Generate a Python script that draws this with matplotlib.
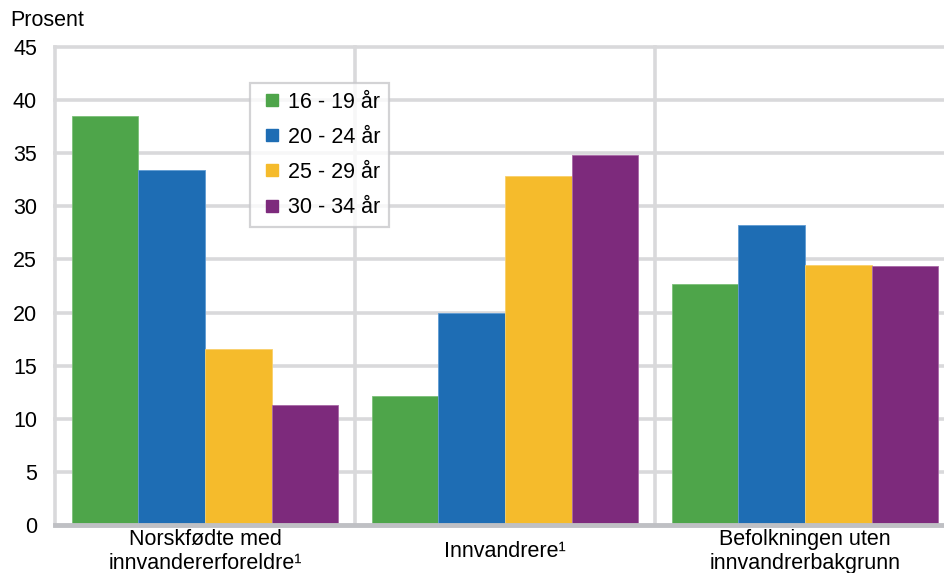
import matplotlib

matplotlib.use("Agg")

import matplotlib.pyplot as plt
import numpy as np
from matplotlib.lines import Line2D

plt.rcParams["font.family"] = ["Liberation Sans", "DejaVu Sans"]

CATEGORIES = ["Norskfødte med\ninnvandererforeldre¹", "Innvandrere¹", "Befolkningen uten\ninnvandrerbakgrunn"]
AGE_GROUPS = ["16 - 19 år", "20 - 24 år", "25 - 29 år", "30 - 34 år"]
AGE_16_19 = [38.5, 12.1, 22.7]
AGE_20_24 = [33.4, 20.0, 28.2]
AGE_25_29 = [16.6, 32.9, 24.5]
AGE_30_34 = [11.3, 34.8, 24.4]
Y_TICKS = [0, 5, 10, 15, 20, 25, 30, 35, 40, 45]

COLORS = ["#4ea54a", "#1e6db4", "#f5bb2c", "#7d2a7c"]
EDGES = ["#7cc078", "#5f9bd3", "#f9d06a", "#a868a6"]
GRID = "#d9d9db"
AXIS = "#bfc0c4"
FS = 15.5

W, H = 944, 573
fig = plt.figure(figsize=(W / 100, H / 100), dpi=100)
ax = fig.add_axes([55 / W, 48 / H, 900 / W, 478 / H])

x = np.arange(len(CATEGORIES))
bw = 0.2222
series = [AGE_16_19, AGE_20_24, AGE_25_29, AGE_30_34]
for i, vals in enumerate(series):
    ax.bar(x + (i - 1.5) * bw, vals, width=bw, color=COLORS[i], edgecolor=EDGES[i],
           linewidth=0.6, zorder=3)

ax.set_xlim(-0.5, 2.5)
ax.set_ylim(0, 45)
for s in ax.spines.values():
    s.set_visible(False)

for v in Y_TICKS[1:]:
    ax.axhline(v, color=GRID, lw=2.6, zorder=1, clip_on=False)
for b in [-0.5, 0.5, 1.5]:
    ax.axvline(b, color=GRID, lw=2.6, zorder=1, clip_on=False)
ax.axhline(0, color=AXIS, lw=3.5, zorder=4, clip_on=False)

ax.set_yticks(Y_TICKS)
ax.set_yticklabels([str(v) for v in Y_TICKS], fontsize=FS)
ax.tick_params(axis="y", length=0, pad=13)
ax.set_xticks(x)
ax.set_xticklabels(CATEGORIES, fontsize=FS, va="center", linespacing=1.2)
ax.tick_params(axis="x", length=0, pad=19)

fig.text(10 / W, 1 - 21 / H, "Prosent", fontsize=FS, va="center", ha="left")

handles = [Line2D([], [], marker="s", linestyle="none", markersize=8,
                  markerfacecolor=c, markeredgecolor=c) for c in COLORS]
leg = ax.legend(handles, AGE_GROUPS, loc="upper left",
                bbox_to_anchor=((250 - 55) / 900, (525 - 83) / 478),
                fontsize=FS, frameon=True, fancybox=False, borderpad=0.4,
                labelspacing=0.66, handlelength=1.2, handletextpad=0.15,
                borderaxespad=0)
leg.get_frame().set_edgecolor("#c8c8cb")
leg.get_frame().set_linewidth(1.6)
leg.set_zorder(5)

fig.savefig("out.png", dpi=100)
